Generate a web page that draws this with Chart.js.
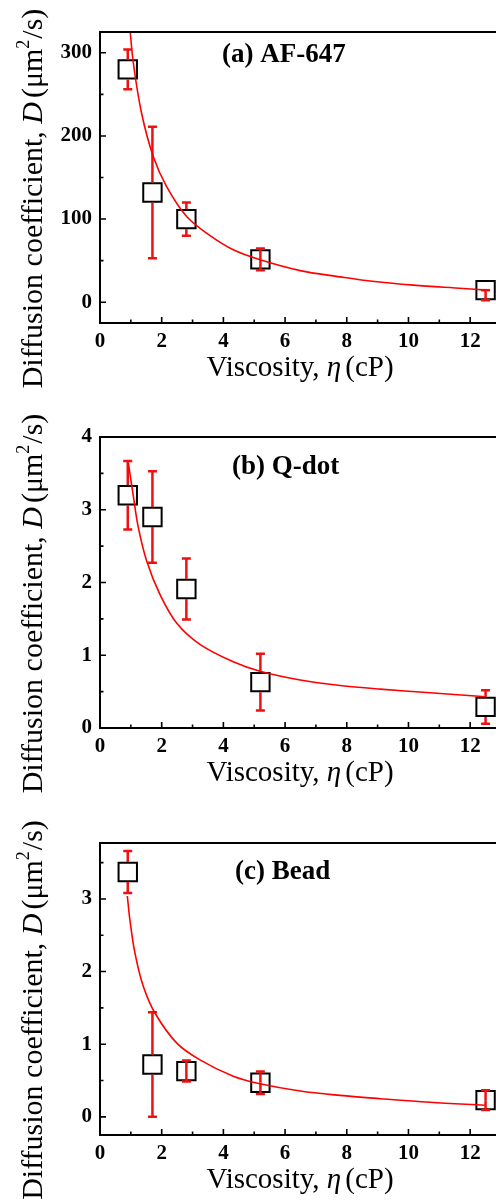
<!DOCTYPE html>
<html><head><meta charset="utf-8">
<script src="https://cdn.jsdelivr.net/npm/chart.js@4.4.1/dist/chart.umd.min.js"></script>
<style>
html,body{margin:0;padding:0;background:#fff;width:496px;height:1201px;overflow:hidden}
.panel{position:absolute;left:0;width:496px;overflow:hidden}
canvas{display:block}
</style></head><body>
<div class="panel" style="top:0;height:400px"><canvas id="cA" width="520" height="400"></canvas></div>
<div class="panel" style="top:400px;height:400px"><canvas id="cB" width="520" height="400"></canvas></div>
<div class="panel" style="top:800px;height:401px"><canvas id="cC" width="520" height="401"></canvas></div>
<script>
// ---- data ----
const viscosity = [0.9, 1.7, 2.8, 5.2, 12.5];
const xTicks = [0, 2, 4, 6, 8, 10, 12];
const xMinorTicks = [1, 3, 5, 7, 9, 11];

const titleA = '(a) AF-647';
const dA = [280, 132, 100, 51.5, 14.5];
const errHiA = [24, 79, 20, 13, 0];
const errLoA = [24, 79, 20, 13, 12];
const fitXA = [0.95, 1.08, 1.35, 1.73, 2.16, 2.81, 3.57, 4.32, 5.19, 6.49, 7.78, 8.54, 10.16, 11.78, 12.5];
const fitYA = [338, 288, 227, 175, 139, 103, 80, 63, 51, 38, 30.5, 26.5, 20.5, 16.5, 14.5];
const yTicksA = [0, 100, 200, 300];
const yMinorA = [50, 150, 250];

const titleB = '(b) Q-dot';
const dB = [3.2, 2.9, 1.91, 0.63, 0.29];
const errHiB = [0.47, 0.63, 0.42, 0.39, 0.23];
const errLoB = [0.47, 0.63, 0.42, 0.39, 0.23];
const fitXB = [0.92, 1.08, 1.24, 1.51, 1.95, 2.49, 3.24, 4.32, 5.19, 6.49, 7.78, 9.08, 10.7, 12.5];
const fitYB = [3.64, 3.19, 2.76, 2.30, 1.83, 1.44, 1.15, 0.91, 0.78, 0.66, 0.585, 0.535, 0.485, 0.43];
const yTicksB = [0, 1, 2, 3, 4];
const yMinorB = [0.5, 1.5, 2.5, 3.5];

const titleC = '(c) Bead';
const dC = [3.37, 0.72, 0.63, 0.47, 0.23];
const errHiC = [0.29, 0.72, 0.145, 0.155, 0.135];
const errLoC = [0.29, 0.72, 0.145, 0.155, 0.135];
const fitXC = [0.886, 0.97, 1.135, 1.4, 1.78, 2.49, 3.24, 4.32, 5.19, 6.49, 7.78, 9.08, 10.7, 12.47];
const fitYC = [3.04, 2.71, 2.25, 1.80, 1.43, 1.015, 0.785, 0.56, 0.455, 0.355, 0.295, 0.25, 0.2, 0.16];
const yTicksC = [0, 1, 2, 3];
const yMinorC = [0.5, 1.5, 2.5, 3.5];

// ---- styling ----
const FF = '"Liberation Serif", "Times New Roman", serif';
const RED = '#ff0000';
const ERR = '#ee1111';
const HALF_BOX = 10;

function richText(ctx, segs, x, y) {
  let total = 0;
  segs.forEach(s => { ctx.font = s.font; total += ctx.measureText(s.t).width + (s.dx || 0); });
  let cx = x - total / 2;
  segs.forEach(s => {
    ctx.font = s.font;
    ctx.fillText(s.t, cx, y + (s.dy || 0));
    cx += ctx.measureText(s.t).width + (s.dx || 0);
  });
}

const decorPlugin = {
  id: 'decor',
  afterDatasetDraw(chart, args, opts) {
    if (args.index !== 1) return;
    const ctx = chart.ctx, xs = chart.scales.x, ys = chart.scales.y;
    ctx.save();
    ctx.strokeStyle = ERR;
    ctx.lineWidth = 2.5;
    opts.vals.forEach((v, i) => {
      const px = xs.getPixelForValue(opts.xs[i]);
      const py = ys.getPixelForValue(v);
      [[opts.hi[i], -1], [opts.lo[i], 1]].forEach(([e, dir]) => {
        const len = Math.abs(ys.getPixelForValue(v + (dir < 0 ? e : -e)) - py);
        const start = len > HALF_BOX + 1.5 ? HALF_BOX : 0;
        ctx.beginPath();
        if (len > start) {
          ctx.moveTo(px, py + dir * start);
          ctx.lineTo(px, py + dir * len);
        }
        ctx.moveTo(px - 4.5, py + dir * len);
        ctx.lineTo(px + 4.5, py + dir * len);
        ctx.stroke();
      });
    });
    ctx.restore();
  },
  afterDraw(chart, args, opts) {
    const ctx = chart.ctx, a = chart.chartArea, xs = chart.scales.x, ys = chart.scales.y;
    ctx.save();
    ctx.strokeStyle = '#000';
    // ticks (inward)
    ctx.lineWidth = 1.6;
    ctx.beginPath();
    xTicks.forEach(v => { const p = xs.getPixelForValue(v); ctx.moveTo(p, a.bottom); ctx.lineTo(p, a.bottom - 6); });
    xMinorTicks.forEach(v => { const p = xs.getPixelForValue(v); ctx.moveTo(p, a.bottom); ctx.lineTo(p, a.bottom - 3.5); });
    opts.yTicks.forEach(v => { const p = ys.getPixelForValue(v); ctx.moveTo(a.left, p); ctx.lineTo(a.left + 6, p); });
    opts.yMinor.forEach(v => { const p = ys.getPixelForValue(v); ctx.moveTo(a.left, p); ctx.lineTo(a.left + 3.5, p); });
    ctx.stroke();
    // frame
    ctx.lineWidth = 2;
    ctx.strokeRect(a.left, a.top, a.right - a.left, a.bottom - a.top);
    // panel title
    ctx.fillStyle = '#000';
    ctx.textBaseline = 'middle';
    ctx.textAlign = 'left';
    ctx.font = 'bold 27px ' + FF;
    ctx.fillText(opts.title, a.left + opts.tx, a.top + opts.ty);
    // x axis title
    ctx.textBaseline = 'alphabetic';
    richText(ctx, [
      {t: 'Viscosity, ', font: '29px ' + FF},
      {t: '\u03B7', font: 'italic 29px ' + FF, dx: 4},
      {t: '(cP)', font: '29px ' + FF}
    ], a.left + 200, a.bottom + 53);
    // y axis title
    ctx.translate(42, (a.top + a.bottom) / 2 + 21);
    ctx.rotate(-Math.PI / 2);
    richText(ctx, [
      {t: 'Diffusion coefficient, ', font: '30px ' + FF},
      {t: 'D', font: 'italic 30px ' + FF, dx: 4},
      {t: '(\u03BCm', font: '30px ' + FF},
      {t: '2', font: '18px ' + FF, dy: -13, dx: 1},
      {t: '/s)', font: '30px ' + FF}
    ], 0, 0);
    ctx.restore();
  }
};

function makePanel(id, cfg) {
  const tickFont = {family: FF, size: 21, weight: 'bold'};
  new Chart(document.getElementById(id), {
    type: 'scatter',
    data: {
      datasets: [
        {
          data: cfg.fitX.map((x, i) => ({x, y: cfg.fitY[i]})),
          showLine: true, borderColor: RED, borderWidth: 1.6,
          pointRadius: 0, tension: 0.35, fill: false
        },
        {
          data: viscosity.map((x, i) => ({x, y: cfg.vals[i]})),
          pointStyle: 'rect', pointRadius: 13, pointBorderWidth: 2,
          pointBorderColor: '#000', pointBackgroundColor: 'rgba(0,0,0,0)',
          pointHoverRadius: 13
        }
      ]
    },
    options: {
      responsive: false, animation: false, devicePixelRatio: 1,
      layout: {padding: {top: cfg.top, right: 19, bottom: 0, left: 0}},
      plugins: {
        legend: {display: false}, tooltip: {enabled: false},
        decor: {vals: cfg.vals, xs: viscosity, hi: cfg.hi, lo: cfg.lo,
                yTicks: cfg.yTicks, yMinor: cfg.yMinor, title: cfg.title, tx: cfg.tx, ty: cfg.ty}
      },
      scales: {
        x: {
          type: 'linear', min: 0, max: 13,
          afterBuildTicks: s => { s.ticks = xTicks.map(v => ({value: v})); },
          afterFit: s => { s.height = cfg.xH; },
          ticks: {font: tickFont, color: '#000', padding: 6, maxRotation: 0, autoSkip: false},
          grid: {display: false, drawTicks: false}, border: {display: false}
        },
        y: {
          type: 'linear', min: cfg.yMin, max: cfg.yMax,
          afterBuildTicks: s => { s.ticks = cfg.yTicks.map(v => ({value: v})); },
          afterFit: s => { s.width = 100; },
          ticks: {font: tickFont, color: '#000', padding: 8, autoSkip: false},
          grid: {display: false, drawTicks: false}, border: {display: false}
        }
      }
    },
    plugins: [decorPlugin]
  });
}

makePanel('cA', {vals: dA, hi: errHiA, lo: errLoA, fitX: fitXA, fitY: fitYA, yTicks: yTicksA, yMinor: yMinorA,
  yMin: -25, yMax: 325, top: 32, xH: 77, title: titleA, tx: 122, ty: 23});
makePanel('cB', {vals: dB, hi: errHiB, lo: errLoB, fitX: fitXB, fitY: fitYB, yTicks: yTicksB, yMinor: yMinorB,
  yMin: 0, yMax: 4, top: 37, xH: 72, title: titleB, tx: 132, ty: 30});
makePanel('cC', {vals: dC, hi: errHiC, lo: errLoC, fitX: fitXC, fitY: fitYC, yTicks: yTicksC, yMinor: yMinorC,
  yMin: -0.25, yMax: 3.77, top: 43, xH: 66, title: titleC, tx: 135, ty: 29});
</script>
</body></html>
